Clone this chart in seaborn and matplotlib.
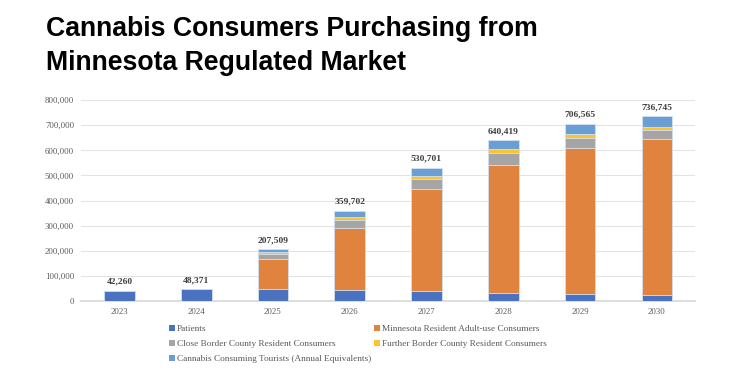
import numpy as np
import pandas as pd
import matplotlib
matplotlib.use("Agg")
import matplotlib.pyplot as plt
import seaborn as sns
from matplotlib.patches import Patch

# ==========================================
# Data
# ==========================================

years = ["2023", "2024", "2025", "2026", "2027", "2028", "2029", "2030"]

patients = [42260, 48371, 47800, 42500, 38500, 33200, 29200, 22600]
mn_adult = [0, 0, 120700, 246700, 407300, 508100, 579800, 623500]
close_border = [0, 0, 17200, 33200, 38500, 46400, 39800, 33200]
further_border = [0, 0, 9300, 13300, 14600, 15900, 15900, 13200]
tourists = [0, 0, 12509, 24002, 31801, 36819, 41865, 44245]

series_names = [
    "Patients",
    "Minnesota Resident Adult-use Consumers",
    "Close Border County Resident Consumers",
    "Further Border County Resident Consumers",
    "Cannabis Consuming Tourists (Annual Equivalents)",
]
colors = ["#4A72C0", "#E0833F", "#A5A5A5", "#FBC232", "#6A9FD6"]

df = pd.DataFrame({
    "year": years,
    series_names[0]: patients,
    series_names[1]: mn_adult,
    series_names[2]: close_border,
    series_names[3]: further_border,
    series_names[4]: tourists,
})

# cumulative tops for overlapping stacked bars
cum = df[series_names].cumsum(axis=1)
cum["year"] = df["year"]
totals = cum[series_names[-1]]

# ==========================================
# Plot
# ==========================================

sns.set_theme(style="white")
plt.rcParams["font.family"] = ["Liberation Serif", "DejaVu Serif"]

fig = plt.figure(figsize=(7.5, 3.75), dpi=100)
ax = fig.add_axes([0.108, 0.197, 0.819, 0.536])

for name, col in reversed(list(zip(series_names, colors))):
    sns.barplot(
        data=cum, x="year", y=name, color=col, ax=ax,
        width=0.4, edgecolor="#D6E2F0", linewidth=0.6,
        saturation=1, zorder=3,
    )

for i, t in enumerate(totals):
    ax.annotate(
        f"{t:,}", (i, t), xytext=(0, 3.5), textcoords="offset points",
        ha="center", va="bottom", fontsize=6.8, fontweight="bold",
        color="#404040",
    )

ax.set_ylim(0, 800000)
ax.set_yticks(np.arange(0, 800001, 100000))
ax.yaxis.set_major_formatter(matplotlib.ticker.FuncFormatter(lambda v, p: f"{int(v):,}"))
ax.grid(axis="y", color="#E3E3E3", linewidth=0.8, zorder=0)
ax.set_axisbelow(True)
for s in ["top", "right", "left"]:
    ax.spines[s].set_visible(False)
ax.spines["bottom"].set_color("#D9D9D9")
ax.tick_params(axis="both", length=0, labelsize=6.3, labelcolor="#595959", pad=5)
ax.set_xlabel("")
ax.set_ylabel("")

# title
fig.text(
    0.062, 0.956,
    "Cannabis Consumers Purchasing from\nMinnesota Regulated Market",
    ha="left", va="top", fontsize=19.2, fontweight="bold",
    family=["Liberation Sans", "DejaVu Sans"], color="black", linespacing=1.37,
)

# legend
handles = [Patch(facecolor=c, edgecolor="none") for c in colors]
order = [0, 2, 4, 1, 3]
fig.legend(
    [handles[i] for i in order], [series_names[i] for i in order],
    ncol=2, loc="upper left", bbox_to_anchor=(0.221, 0.143),
    frameon=False, fontsize=6.7, labelcolor="#595959",
    handlelength=0.55, handleheight=0.55, handletextpad=0.25,
    columnspacing=0.35, labelspacing=0.75, borderaxespad=0,
)

plt.savefig("out.png", dpi=100)
